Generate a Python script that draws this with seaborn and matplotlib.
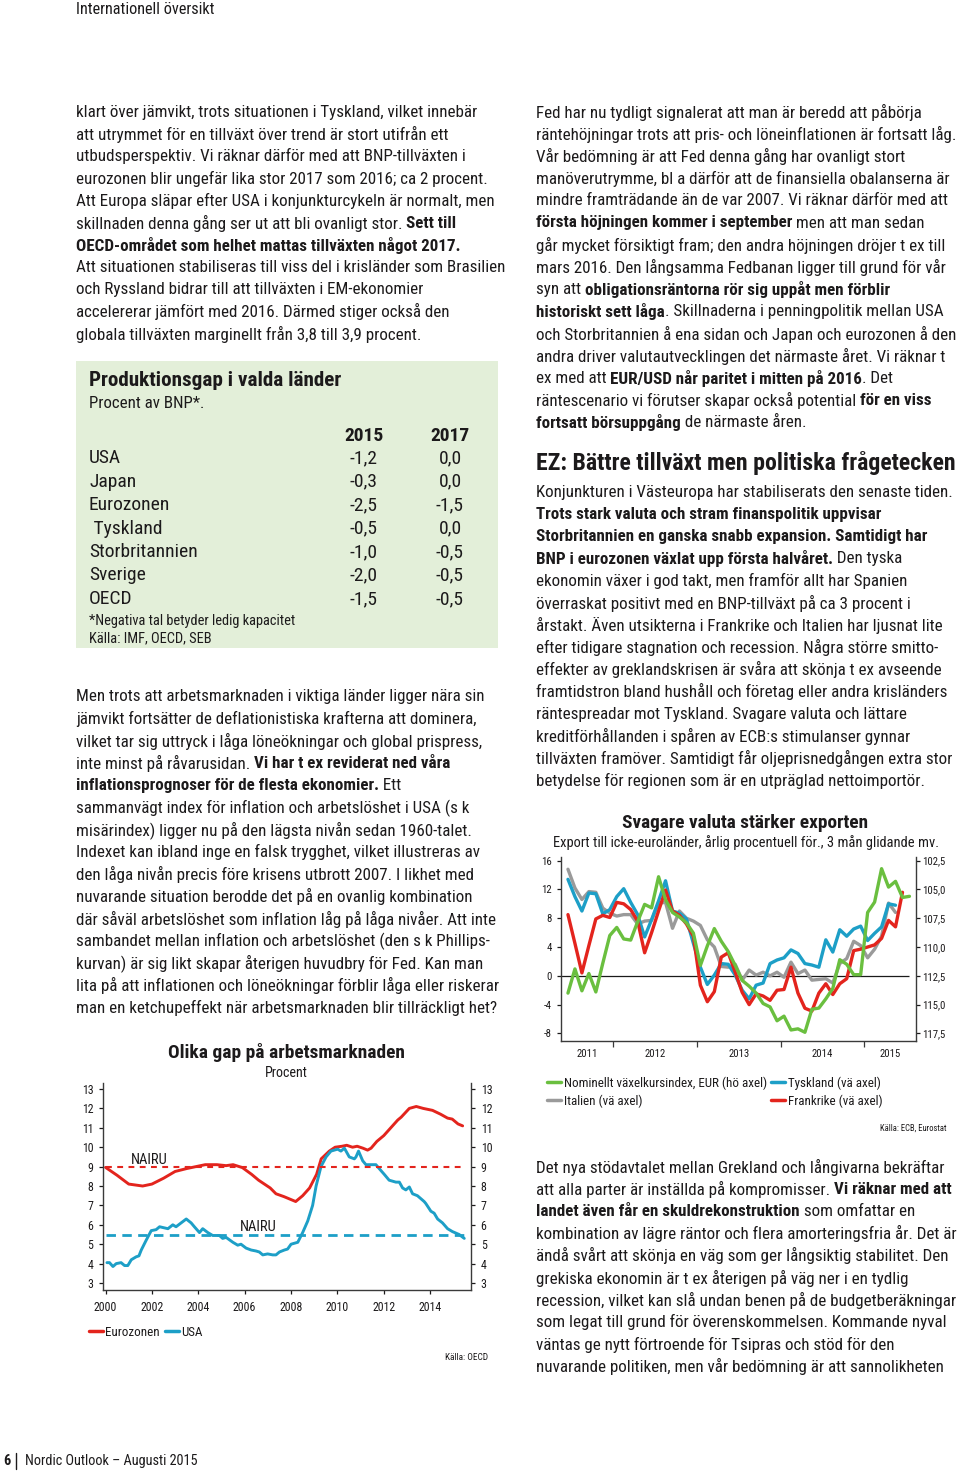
import matplotlib
matplotlib.use('Agg')
import matplotlib.pyplot as plt
from matplotlib import font_manager as fm
from matplotlib.lines import Line2D
from matplotlib.patches import Rectangle
from matplotlib.ticker import FuncFormatter
import numpy as np
import seaborn as sns

W, H = 960, 1472
INK = '#1c1a1b'
AXIS = '#3a3a3a'
RED = '#e3241d'
TEAL = '#1d9fc7'
GREEN = '#6abf3f'
GREY = '#9a9a9a'
BOX = '#e3efd9'

# ---------------- chart 1: Olika gap på arbetsmarknaden ----------------
eur_year = [2000.0, 2000.5, 2001.0, 2001.6, 2002.0, 2002.5, 2003.0, 2003.5, 2004.3, 2004.8,
            2005.2, 2005.5, 2005.9, 2006.3, 2006.6, 2007.1, 2007.35, 2007.7, 2008.0, 2008.2,
            2008.5, 2008.8, 2009.1, 2009.3, 2009.65, 2009.9, 2010.2, 2010.4, 2010.65, 2010.85,
            2011.1, 2011.3, 2011.45, 2011.7, 2012.0, 2012.3, 2012.6, 2012.75, 2013.1, 2013.4,
            2013.7, 2014.1, 2014.45, 2014.75, 2014.95, 2015.2, 2015.4]
eur_val = [8.96, 8.55, 8.1, 8.0, 8.1, 8.4, 8.75, 8.9, 9.1, 9.1,
           9.05, 9.1, 8.95, 8.6, 8.3, 7.9, 7.6, 7.45, 7.3, 7.2,
           7.5, 7.9, 8.6, 9.4, 9.8, 10.0, 10.05, 10.1, 10.0, 10.05,
           9.95, 9.85, 9.95, 10.3, 10.6, 11.0, 11.4, 11.55, 12.0, 12.1,
           12.0, 11.9, 11.7, 11.5, 11.45, 11.2, 11.1]
usa_year = [2000.06, 2000.17, 2000.32, 2000.46, 2000.67, 2000.82, 2000.96, 2001.11, 2001.32, 2001.44,
            2001.54, 2001.75, 2001.97, 2002.18, 2002.33, 2002.69, 2002.9, 2003.04, 2003.26, 2003.48,
            2003.69, 2003.83, 2004.05, 2004.19, 2004.41, 2004.62, 2004.91, 2005.05, 2005.2, 2005.49,
            2005.7, 2005.84, 2006.06, 2006.28, 2006.49, 2006.63, 2006.78, 2006.99, 2007.21, 2007.35,
            2007.5, 2007.71, 2007.85, 2008.0, 2008.29, 2008.5, 2008.72, 2008.93, 2009.08, 2009.29,
            2009.51, 2009.72, 2010.01, 2010.15, 2010.3, 2010.51, 2010.73, 2010.8, 2010.91, 2011.09,
            2011.23, 2011.66, 2011.8, 2012.02, 2012.23, 2012.52, 2012.67, 2012.81, 2012.95, 2013.1,
            2013.24, 2013.45, 2013.74, 2013.81, 2014.03, 2014.17, 2014.32, 2014.53, 2014.75, 2014.96,
            2015.25, 2015.47]
usa_val = [4.05, 4.05, 3.85, 4.0, 4.05, 3.9, 3.9, 4.2, 4.35, 4.4,
           4.7, 5.2, 5.7, 5.75, 5.9, 5.8, 6.0, 5.9, 6.1, 6.3,
           6.1, 5.9, 5.6, 5.8, 5.6, 5.45, 5.45, 5.3, 5.35, 5.1,
           4.95, 5.0, 4.8, 4.7, 4.65, 4.6, 4.45, 4.5, 4.45, 4.45,
           4.6, 4.7, 4.75, 5.0, 5.1, 5.6, 6.2, 7.0, 8.0, 9.0,
           9.5, 9.8, 9.9, 9.8, 9.95, 9.5, 9.4, 9.5, 9.8, 9.3,
           9.1, 9.1, 8.9, 8.6, 8.3, 8.2, 8.2, 7.9, 7.8, 7.95,
           7.6, 7.5, 7.2, 7.1, 6.7, 6.6, 6.3, 6.1, 5.8, 5.65,
           5.5, 5.3]
NAIRU_EZ = 9.0
NAIRU_US = 5.5
gap_ticks_y = list(range(3, 14))
gap_ticks_x = list(range(2000, 2015, 2))

# ---------------- chart 2: Svagare valuta stärker exporten ----------------
FIRST_MONTH = 2011 + 5.5 / 12          # mid June 2011
neer_index = [114.0, 111.9, 113.8, 112.3, 113.9, 111.4, 109.0, 108.3, 109.3, 109.4,
              107.8, 106.3, 106.6, 103.9, 105.9, 107.0, 107.4, 107.9, 108.8, 111.6,
              109.9, 108.4, 109.5, 110.4, 111.6, 112.9, 113.4, 114.0, 114.9, 115.2,
              116.4, 116.0, 117.2, 117.1, 117.4, 115.4, 115.3, 114.5, 113.6, 111.1,
              111.5, 112.4, 112.4, 107.0, 106.1, 103.2, 104.8, 104.3, 105.7, 105.6]
exp_germany = [13.4, 11.0, 9.0, 11.5, 11.4, 8.6, 9.2, 11.0, 12.1, 10.2,
               8.5, 5.4, 7.8, 10.4, 13.2, 9.0, 8.7, 7.9, 4.5, 1.2,
               -1.2, 0.1, 1.7, 1.6, 0.1, -2.0, -3.2, -1.3, -1.0, 1.7,
               2.2, 2.5, 3.6, 3.1, 1.7, 1.5, 1.2, 5.0, 3.3, 6.4,
               5.5, 6.5, 6.9, 4.9, 5.9, 6.8, 10.0, 9.8]
exp_italy = [14.8, 12.2, 10.6, 11.7, 11.6, 9.4, 8.7, 8.3, 8.5, 8.5,
             7.2, 7.6, 7.7, 10.1, 10.2, 6.6, 9.0, 8.0, 7.6, 7.0,
             5.0, 4.0, 1.3, 1.2, 1.6, -0.6, 0.8, 0.1, 0.5, 0.0,
             0.5, -0.2, 1.9, 0.3, 0.8, -0.6, -0.5, -0.4, -1.0, 1.7,
             2.4, 4.8, 4.2, 2.5, 3.7, 5.5, 10.1, 8.8]
exp_france = [8.5, 4.5, 0.4, 4.2, 7.9, 8.4, 8.1, 10.2, 10.0, 9.2,
              7.6, 3.2, 6.0, 9.0, 11.9, 9.0, 8.4, 7.2, 5.5, -1.3,
              -3.6, -2.2, 2.6, 3.2, 0.5, -2.3, -4.0, -2.5, -2.8, -3.4,
              -2.0, -1.9, 1.2, -2.4, -4.5, -4.9, -2.4, -1.1, -2.6, -1.1,
              -0.4, 3.5, 3.7, 4.0, 4.3, 5.2, 7.7, 6.8, 11.6]
exp_ticks_left = list(range(-8, 17, 4))
exp_ticks_right = [102.5, 105.0, 107.5, 110.0, 112.5, 115.0, 117.5]
exp_year_bounds = [2012, 2013, 2014, 2015]
exp_year_labels = ['2011', '2012', '2013', '2014', '2015']
RIGHT_AT_ZERO = 112.5     # right axis value level with 0 on the left axis
RIGHT_PER_LEFT = -0.625   # right axis units per left axis unit (inverted)

# ---------------- table ----------------
tab_countries = ['USA', 'Japan', 'Eurozonen', ' Tyskland', 'Storbritannien', 'Sverige', 'OECD']
tab_2015 = [-1.2, -0.3, -2.5, -0.5, -1.0, -2.0, -1.5]
tab_2017 = [0.0, 0.0, -1.5, 0.0, -0.5, -0.5, -0.5]
tab_years = ['2015', '2017']

# ---------------- body text ----------------
left_top = [
    'klart över jämvikt, trots situationen i Tyskland, vilket innebär',
    'att utrymmet för en tillväxt över trend är stort utifrån ett',
    'utbudsperspektiv. Vi räknar därför med att BNP-tillväxten i',
    'eurozonen blir ungefär lika stor 2017 som 2016; ca 2 procent.',
    'Att Europa släpar efter USA i konjunkturcykeln är normalt, men',
    'skillnaden denna gång ser ut att bli ovanligt stor. **Sett till**',
    '**OECD-området som helhet mattas tillväxten något 2017.**',
    'Att situationen stabiliseras till viss del i krisländer som Brasilien',
    'och Ryssland bidrar till att tillväxten i EM-ekonomier',
    'accelererar jämfört med 2016. Därmed stiger också den',
    'globala tillväxten marginellt från 3,8 till 3,9 procent.',
]
left_mid = [
    'Men trots att arbetsmarknaden i viktiga länder ligger nära sin',
    'jämvikt fortsätter de deflationistiska krafterna att dominera,',
    'vilket tar sig uttryck i låga löneökningar och global prispress,',
    'inte minst på råvarusidan. **Vi har t ex reviderat ned våra**',
    '**inflationsprognoser för de flesta ekonomier.** Ett',
    'sammanvägt index för inflation och arbetslöshet i USA (s k',
    'misärindex) ligger nu på den lägsta nivån sedan 1960-talet.',
    'Indexet kan ibland inge en falsk trygghet, vilket illustreras av',
    'den låga nivån precis före krisens utbrott 2007. I likhet med',
    'nuvarande situation berodde det på en ovanlig kombination',
    'där såväl arbetslöshet som inflation låg på låga nivåer. Att inte',
    'sambandet mellan inflation och arbetslöshet (den s k Phillips-',
    'kurvan) är sig likt skapar återigen huvudbry för Fed. Kan man',
    'lita på att inflationen och löneökningar förblir låga eller riskerar',
    'man en ketchupeffekt när arbetsmarknaden blir tillräckligt het?',
]
right_top = [
    'Fed har nu tydligt signalerat att man är beredd att påbörja',
    'räntehöjningar trots att pris- och löneinflationen är fortsatt låg.',
    'Vår bedömning är att Fed denna gång har ovanligt stort',
    'manöverutrymme, bl a därför att de finansiella obalanserna är',
    'mindre framträdande än de var 2007. Vi räknar därför med att',
    '**första höjningen kommer i september** men att man sedan',
    'går mycket försiktigt fram; den andra höjningen dröjer t ex till',
    'mars 2016. Den långsamma Fedbanan ligger till grund för vår',
    'syn att **obligationsräntorna rör sig uppåt men förblir**',
    '**historiskt sett låga**. Skillnaderna i penningpolitik mellan USA',
    'och Storbritannien å ena sidan och Japan och eurozonen å den',
    'andra driver valutautvecklingen det närmaste året. Vi räknar t',
    'ex med att **EUR/USD når paritet i mitten på 2016**. Det',
    'räntescenario vi förutser skapar också potential **för en viss**',
    '**fortsatt börsuppgång** de närmaste åren.',
]
ez_heading = 'EZ: Bättre tillväxt men politiska frågetecken'
right_mid = [
    'Konjunkturen i Västeuropa har stabiliserats den senaste tiden.',
    '**Trots stark valuta och stram finanspolitik uppvisar**',
    '**Storbritannien en ganska snabb expansion. Samtidigt har**',
    '**BNP i eurozonen växlat upp första halvåret.** Den tyska',
    'ekonomin växer i god takt, men framför allt har Spanien',
    'överraskat positivt med en BNP-tillväxt på ca 3 procent i',
    'årstakt. Även utsikterna i Frankrike och Italien har ljusnat lite',
    'efter tidigare stagnation och recession. Några större smitto-',
    'effekter av greklandskrisen är svåra att skönja t ex avseende',
    'framtidstron bland hushåll och företag eller andra krisländers',
    'räntespreadar mot Tyskland. Svagare valuta och lättare',
    'kreditförhållanden i spåren av ECB:s stimulanser gynnar',
    'tillväxten framöver. Samtidigt får oljeprisnedgången extra stor',
    'betydelse för regionen som är en utpräglad nettoimportör.',
]
right_bottom = [
    'Det nya stödavtalet mellan Grekland och långivarna bekräftar',
    'att alla parter är inställda på kompromisser. **Vi räknar med att**',
    '**landet även får en skuldrekonstruktion** som omfattar en',
    'kombination av lägre räntor och flera amorteringsfria år. Det är',
    'ändå svårt att skönja en väg som ger långsiktig stabilitet. Den',
    'grekiska ekonomin är t ex återigen på väg ner i en tydlig',
    'recession, vilket kan slå undan benen på de budgetberäkningar',
    'som legat till grund för överenskommelsen. Kommande nyval',
    'väntas ge nytt förtroende för Tsipras och stöd för den',
    'nuvarande politiken, men vår bedömning är att sannolikheten',
]

# ---------------- fonts ----------------
CANDIDATES = ['Roboto Condensed', 'Fira Sans Condensed', 'Archivo Narrow', 'PT Sans Narrow',
              'IBM Plex Sans Condensed', 'Liberation Sans Narrow', 'Roboto', 'Lato', 'DejaVu Sans']
weights = {}
for f in fm.fontManager.ttflist:
    weights.setdefault(f.name, set()).add(f.weight)


def usable(name):
    w = weights.get(name, set())
    return any(x in (400, 'normal', 'regular') for x in w) and any(x in (700, 'bold') for x in w)


FONT = next((n for n in CANDIDATES if usable(n)), 'DejaVu Sans')

sns.set_theme(style='white')
plt.rcParams['font.family'] = [FONT, 'DejaVu Sans']
plt.rcParams['axes.unicode_minus'] = False

fig = plt.figure(figsize=(W / 100, H / 100), dpi=100, facecolor='white')
renderer = fig.canvas.get_renderer()


def fx(x):
    return x / W


def fy(y):
    return 1 - y / H


def fit(s, px, bold=False):
    t = fig.text(0, 0, s, fontsize=10, fontweight='bold' if bold else 'normal')
    w = t.get_window_extent(renderer).width
    t.remove()
    return 10 * px / w


def put(x, y, line, size, ha='left', bold_all=False, color=INK):
    parts = line.split('**')
    if ha != 'left':
        fig.text(fx(x), fy(y), line.replace('**', ''), fontsize=size, color=color,
                 fontweight='bold' if bold_all else 'normal', ha=ha, va='center')
        return
    for i, part in enumerate(parts):
        if not part:
            continue
        bold = bold_all or i % 2 == 1
        t = fig.text(fx(x), fy(y), part, fontsize=size, color=color,
                     fontweight='bold' if bold else 'normal', ha='left', va='center')
        x = t.get_window_extent(renderer).x1


def block(x, y0, lines, size, step=22.2):
    for i, line in enumerate(lines):
        put(x, y0 + i * step, line, size)


def add_ax(l, t, r, b):
    return fig.add_axes([fx(l), fy(b), (r - l) / W, (b - t) / H])


def style_axes(ax):
    for side in ('left', 'right', 'bottom'):
        ax.spines[side].set_visible(True)
        ax.spines[side].set_color(AXIS)
        ax.spines[side].set_linewidth(1.0)
    ax.spines['top'].set_visible(False)
    ax.grid(False)
    ax.set_xlabel('')
    ax.set_ylabel('')


# body size: average fit over a few full lines measured on the page
BODY = np.mean([fit(left_top[0], 402), fit(left_top[7], 418),
                fit(right_top[1], 419), fit(left_mid[-1], 421), fit(right_mid[0], 419)])

# page header / footer
FOOT = fit('Nordic Outlook – Augusti 2015', 173)
put(76, 10, 'Internationell översikt', fit('Internationell översikt', 138))
put(3, 1461, '**6**', FOOT)
fig.add_artist(Line2D([fx(16), fx(16)], [fy(1469), fy(1453)], transform=fig.transFigure,
                      color=INK, lw=1.0))
put(25, 1461, 'Nordic Outlook – Augusti 2015', FOOT)

# body text
block(76, 112, left_top, BODY)
block(76, 697, left_mid, BODY)
block(536, 112, right_top, BODY)
put(536, 463, ez_heading, fit(ez_heading, 419, bold=True), bold_all=True)
block(536, 492, right_mid, BODY)
block(536, 1167, right_bottom, BODY)

# ---------------- table box ----------------
fig.add_artist(Rectangle((fx(76), fy(648)), 422 / W, 287 / H, transform=fig.transFigure,
                         facecolor=BOX, edgecolor='none', zorder=0))
put(89, 381, 'Produktionsgap i valda länder', fit('Produktionsgap i valda länder', 253, True), bold_all=True)
put(89, 404, 'Procent av BNP*.', fit('Procent av BNP*.', 115))
TAB = fit('Storbritannien', 108)
for j, yr in enumerate(tab_years):
    put([364, 450][j], 436, yr, TAB, ha='center', bold_all=True)
for i, (c, a, b) in enumerate(zip(tab_countries, tab_2015, tab_2017)):
    y = 458 + i * 23.5
    put(89, y, c, TAB)
    put(364, y, f'{a:.1f}'.replace('.', ','), TAB, ha='center')
    put(450, y, f'{b:.1f}'.replace('.', ','), TAB, ha='center')
NOTE = fit('*Negativa tal betyder ledig kapacitet', 205)
put(89, 621, '*Negativa tal betyder ledig kapacitet', NOTE)
put(89, 638, 'Källa: IMF, OECD, SEB', NOTE)

# ---------------- chart 1 ----------------
TICK1 = fit('2000', 23)
ax1 = add_ax(103, 1083, 471, 1290)
sns.lineplot(x=eur_year, y=eur_val, ax=ax1, color=RED, linewidth=2.1, legend=False)
sns.lineplot(x=usa_year, y=usa_val, ax=ax1, color=TEAL, linewidth=2.1, legend=False)
ax1.hlines(NAIRU_EZ, eur_year[0], usa_year[-1] + 0.07, colors=RED,
           linestyles=(0, (2.8, 2.6)), linewidth=1.5)
ax1.hlines(NAIRU_US, eur_year[0], usa_year[-1] + 0.07, colors=TEAL,
           linestyles=(0, (3.4, 2.3)), linewidth=2.0)
NAIRU_SIZE = fit('NAIRU', 37)
ax1.text(2001.9, NAIRU_EZ + 0.32, 'NAIRU', ha='center', va='center', fontsize=NAIRU_SIZE, color=INK)
ax1.text(2006.6, NAIRU_US + 0.38, 'NAIRU', ha='center', va='center', fontsize=NAIRU_SIZE, color=INK)
ax1.set_xlim(1999.89, 2015.76)
ax1.set_ylim(2.64, 13.31)
style_axes(ax1)
ax1.set_yticks(gap_ticks_y)
ax1.set_xticks(gap_ticks_x)
ax1.tick_params(axis='y', left=True, right=True, labelleft=True, labelright=True,
                direction='out', length=3, width=0.9, labelsize=TICK1, colors=INK, pad=4)
ax1.tick_params(axis='x', bottom=True, direction='out', length=3, width=0.9,
                labelsize=TICK1, colors=INK, pad=5)
put(286, 1052, 'Olika gap på arbetsmarknaden', fit('Olika gap på arbetsmarknaden', 236, True),
    ha='center', bold_all=True)
put(286, 1073, 'Procent', fit('Procent', 43), ha='center')
LEG1 = fit('Eurozonen', 54)
fig.legend([Line2D([], [], color=RED, lw=2.5), Line2D([], [], color=TEAL, lw=2.5)],
           ['Eurozonen', 'USA'], ncol=2, loc='center left', bbox_to_anchor=(fx(89), fy(1332)),
           frameon=False, fontsize=LEG1, handlelength=1.05, handletextpad=0.2,
           columnspacing=0.4, borderpad=0, borderaxespad=0, labelcolor=INK)
put(488, 1358, 'Källa: OECD', fit('Källa: OECD', 43), ha='right')

# ---------------- chart 2 ----------------
TICK2 = fit('2011', 21)
month_x = FIRST_MONTH + np.arange(len(neer_index)) / 12
ax2 = add_ax(561, 857, 916, 1041)
ax2.set_xlim(2011.375, 2015.62)
ax2.set_ylim(-9.05, 16.5)
ax2.hlines(0, 2011.375, month_x[-1], colors='#1a1a1a', linewidth=0.9)
sns.lineplot(x=month_x[:len(exp_italy)], y=exp_italy, ax=ax2, color=GREY, linewidth=2.4, legend=False)
sns.lineplot(x=month_x[:len(exp_germany)], y=exp_germany, ax=ax2, color=TEAL, linewidth=2.4, legend=False)
sns.lineplot(x=month_x[:len(exp_france)], y=exp_france, ax=ax2, color=RED, linewidth=2.4, legend=False)
ax3 = ax2.twinx()
sns.lineplot(x=month_x, y=neer_index, ax=ax3, color=GREEN, linewidth=2.4, legend=False)
lo, hi = ax2.get_ylim()
ax3.set_ylim(RIGHT_AT_ZERO + RIGHT_PER_LEFT * lo, RIGHT_AT_ZERO + RIGHT_PER_LEFT * hi)
ax2.set_xlim(2011.375, 2015.62)
style_axes(ax2)
style_axes(ax3)
ax2.spines['right'].set_visible(False)
ax3.spines['left'].set_visible(False)
ax3.spines['bottom'].set_visible(False)
ax2.set_yticks(exp_ticks_left)
ax2.tick_params(axis='y', left=True, right=False, labelleft=True, labelright=False,
                direction='out', length=3, width=0.9, labelsize=TICK2, colors=INK, pad=3.5)
ax3.set_yticks(exp_ticks_right)
ax3.yaxis.set_major_formatter(FuncFormatter(lambda v, p: f'{v:.1f}'.replace('.', ',')))
ax3.tick_params(axis='y', left=False, right=True, labelleft=False, labelright=True,
                direction='out', length=3, width=0.9, labelsize=TICK2, colors=INK, pad=1.5)
x0, x1 = ax2.get_xlim()
edges = [x0] + exp_year_bounds + [x1]
mids = [(a + b) / 2 for a, b in zip(edges[:-1], edges[1:])]
ax2.set_xticks(exp_year_bounds)
ax2.set_xticklabels([])
ax2.set_xticks(mids, minor=True)
ax2.set_xticklabels(exp_year_labels, minor=True)
ax2.tick_params(axis='x', which='major', bottom=True, direction='out', length=4, width=0.9, colors=AXIS)
ax2.tick_params(axis='x', which='minor', bottom=True, length=0, labelsize=TICK2, labelcolor=INK, pad=6)
put(745, 823, 'Svagare valuta stärker exporten', fit('Svagare valuta stärker exporten', 245, True),
    ha='center', bold_all=True)
sub = 'Export till icke-euroländer, årlig procentuell för., 3 mån glidande mv.'
put(746, 843, sub, fit(sub, 386), ha='center')
LEG2 = fit('Nominellt växelkursindex, EUR (hö axel)', 202)
fig.legend([Line2D([], [], color=GREEN, lw=2.5), Line2D([], [], color=GREY, lw=2.5),
            Line2D([], [], color=TEAL, lw=2.5), Line2D([], [], color=RED, lw=2.5)],
           ['Nominellt växelkursindex, EUR (hö axel)', 'Italien (vä axel)',
            'Tyskland (vä axel)', 'Frankrike (vä axel)'],
           ncol=2, loc='center left', bbox_to_anchor=(fx(547), fy(1092)), frameon=False,
           fontsize=LEG2, handlelength=1.1, handletextpad=0.2, columnspacing=0.3,
           labelspacing=0.35, borderpad=0, borderaxespad=0, labelcolor=INK)
put(947, 1128, 'Källa: ECB, Eurostat', fit('Källa: ECB, Eurostat', 67), ha='right')

fig.savefig('out.png', dpi=100, facecolor='white')
